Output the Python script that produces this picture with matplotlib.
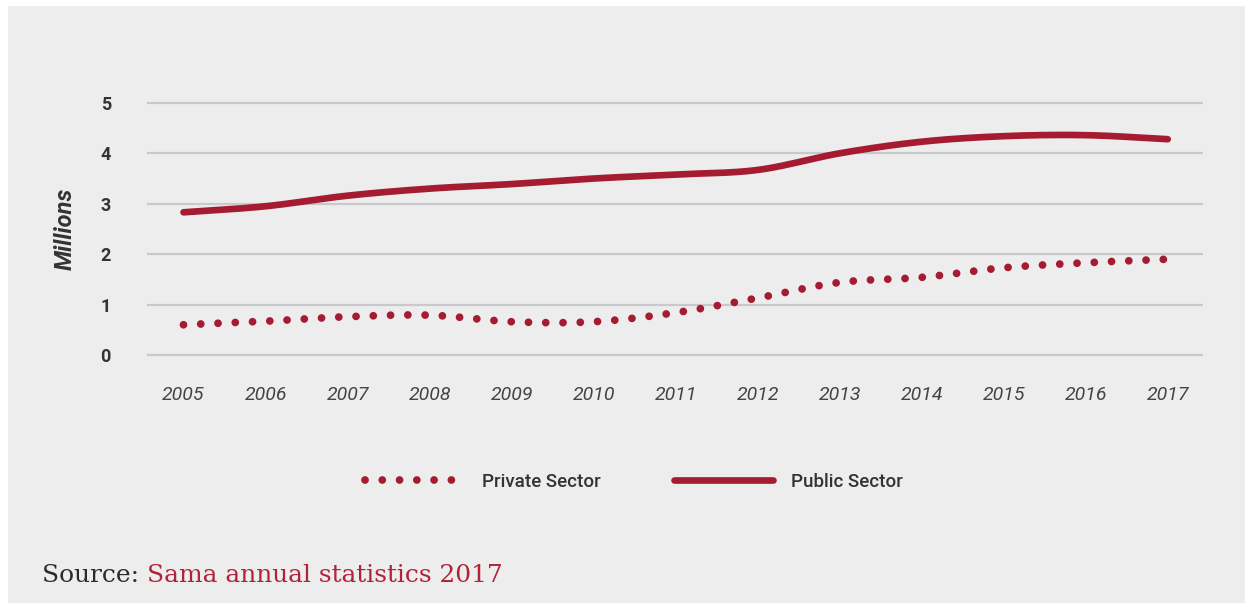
import numpy as np
import matplotlib
matplotlib.use("Agg")
import matplotlib.pyplot as plt
from matplotlib.patches import Rectangle

# Workforce by sector, millions
years = [2005, 2006, 2007, 2008, 2009, 2010, 2011, 2012, 2013, 2014, 2015, 2016, 2017]
public_sector = [2.83, 2.95, 3.16, 3.30, 3.39, 3.50, 3.58, 3.67, 4.00, 4.23, 4.34, 4.36, 4.28]
private_sector = [0.60, 0.67, 0.76, 0.79, 0.66, 0.66, 0.84, 1.13, 1.44, 1.54, 1.73, 1.83, 1.90]
y_ticks = [0, 1, 2, 3, 4, 5]

RED = "#a51c31"
GRID = "#c9c9cb"
PANEL = "#ededed"
TEXT = "#333333"
NARROW = ["Liberation Sans Narrow", "Roboto", "DejaVu Sans"]


def smooth(x, y, n=40):
    """Cubic Hermite curve through the points (Catmull-Rom tangents)."""
    x = np.asarray(x, float)
    y = np.asarray(y, float)
    m = np.empty_like(y)
    m[1:-1] = (y[2:] - y[:-2]) / (x[2:] - x[:-2])
    m[0] = (y[1] - y[0]) / (x[1] - x[0])
    m[-1] = (y[-1] - y[-2]) / (x[-1] - x[-2])
    xs, ys = [], []
    for i in range(len(x) - 1):
        h = x[i + 1] - x[i]
        t = np.linspace(0, 1, n, endpoint=(i == len(x) - 2))
        h00 = 2 * t**3 - 3 * t**2 + 1
        h10 = t**3 - 2 * t**2 + t
        h01 = -2 * t**3 + 3 * t**2
        h11 = t**3 - t**2
        xs.append(x[i] + t * h)
        ys.append(h00 * y[i] + h10 * h * m[i] + h01 * y[i + 1] + h11 * h * m[i + 1])
    return np.concatenate(xs), np.concatenate(ys)


W, H = 1253, 609
fig = plt.figure(figsize=(W / 100, H / 100), dpi=100, facecolor="white")
fig.patches.append(Rectangle((8 / W, 6 / H), (1245 - 8) / W, (603 - 6) / H,
                             transform=fig.transFigure, facecolor=PANEL,
                             edgecolor="none", zorder=-10))

# axes box: gridline span 147..1203 px, y from 92.8 to 365.1 px
ax = fig.add_axes([147 / W, 1 - 365.1 / H, (1203 - 147) / W, (365.1 - 92.8) / H])
ax.set_zorder(2)
ax.set_facecolor("none")
ax.set_xlim(2004.555, 2017.43)
ax.set_ylim(-0.2, 5.2)

for s in ax.spines.values():
    s.set_visible(False)
ax.set_yticks(y_ticks)
ax.set_xticks(years)
ax.grid(axis="y", color=GRID, linewidth=1.6)
ax.grid(axis="x", visible=False)
ax.set_axisbelow(True)
ax.tick_params(axis="both", length=0)
ax.tick_params(axis="y", pad=26)
ax.tick_params(axis="x", pad=15)
for lab in ax.get_yticklabels():
    lab.set_fontfamily(NARROW)
    lab.set_fontsize(13)
    lab.set_fontweight("bold")
    lab.set_color(TEXT)
for lab in ax.get_xticklabels():
    lab.set_fontfamily(NARROW)
    lab.set_fontsize(14)
    lab.set_fontstyle("italic")
    lab.set_color("#444444")

ax.set_ylabel("Millions", fontfamily=NARROW, fontsize=17, fontstyle="italic",
              fontweight="bold", color=TEXT, labelpad=17)

px, py = smooth(years, private_sector)
ux, uy = smooth(years, public_sector)

ax.plot(px, py, color=RED, linewidth=5.6, linestyle=(0, (0.001, 2.22)),
        dash_capstyle="round", label="Private Sector", zorder=3)
ax.plot(ux, uy, color=RED, linewidth=4.8, solid_capstyle="round",
        label="Public Sector", zorder=3)

leg = fig.legend(handles=ax.get_lines(), loc="center",
                 bbox_to_anchor=(634 / W, 1 - 482 / H), ncol=2, frameon=False,
                 prop={"family": NARROW, "size": 13.5, "weight": "medium"},
                 handlelength=5.3, handletextpad=0.95, columnspacing=3.9)
for t in leg.get_texts():
    t.set_color(TEXT)

# source line
renderer = fig.canvas.get_renderer()
src = fig.text(42 / W, 1 - 582 / H, "Source: ", fontfamily="DejaVu Serif",
               fontsize=17.9, color="#2b2b2b", va="baseline", ha="left")
bb = src.get_window_extent(renderer)
fig.text(bb.x1 / W, 1 - 582 / H, "Sama annual statistics 2017",
         fontfamily="DejaVu Serif", fontsize=17.9, color="#b02339",
         va="baseline", ha="left")

fig.savefig("out.png", dpi=100, facecolor="white")
